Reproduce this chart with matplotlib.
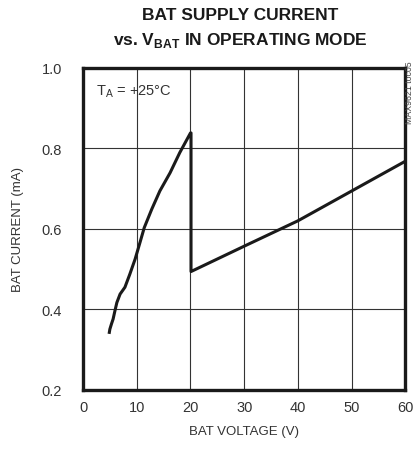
import numpy as np
import matplotlib.pyplot as plt

# Data
v_low = [4.9, 5.0, 5.3, 5.6, 5.95, 6.3, 6.9, 7.8, 8.7, 9.7, 10.6, 11.4, 12.8, 14.3, 16.2, 18.0, 20.0]
i_low = [0.343, 0.351, 0.364, 0.376, 0.397, 0.417, 0.438, 0.455, 0.487, 0.525, 0.566,
         0.603, 0.649, 0.694, 0.739, 0.789, 0.838]
v_high = [20.1, 20.1, 30, 40, 50, 60]
i_high = [0.838, 0.494, 0.557, 0.620, 0.694, 0.768]

x_ticks = [0, 10, 20, 30, 40, 50, 60]
y_ticks = [0.2, 0.4, 0.6, 0.8, 1.0]

plt.rcParams['font.family'] = ['Liberation Sans', 'DejaVu Sans']
plt.rcParams['mathtext.fontset'] = 'custom'
plt.rcParams['mathtext.rm'] = 'Liberation Sans'
plt.rcParams['mathtext.bf'] = 'Liberation Sans:bold'

fig = plt.figure(figsize=(4.15, 4.52), dpi=100)
ax = fig.add_axes([0.2, 0.135, 0.777, 0.713])

ax.plot(v_low + v_high, i_low + i_high, color='#1a1a1a', lw=2.2, solid_joinstyle='round')

ax.set_xlim(0, 60)
ax.set_ylim(0.2, 1.0)
ax.set_xticks(x_ticks)
ax.set_yticks(y_ticks)
ax.set_xticklabels([str(t) for t in x_ticks])
ax.set_yticklabels([f'{t:.1f}' for t in y_ticks])
ax.tick_params(length=0, labelsize=10.5, colors='#333333')
ax.tick_params(axis='x', pad=7)
ax.tick_params(axis='y', pad=15)
ax.grid(True, color='#333333', lw=0.8)
for s in ax.spines.values():
    s.set_linewidth(2.4)
    s.set_color('#1a1a1a')

ax.set_xlabel('BAT VOLTAGE (V)', fontsize=9.5, color='#333333', labelpad=8)
ax.set_ylabel('BAT CURRENT (mA)', fontsize=9.5, color='#333333', labelpad=13)

ax.text(0.04, 0.955, r'T$_{\mathregular{A}}$ = +25°C', transform=ax.transAxes,
        fontsize=10.5, color='#333333', va='top', ha='left')
fig.text(0.997, 0.865, 'MAX9621 toc05', rotation=90, fontsize=6.3, color='#444444',
         ha='right', va='top')

fig.text(0.579, 0.966, 'BAT SUPPLY CURRENT', fontsize=12.5, fontweight='bold',
         ha='center', va='center', color='#1a1a1a')
fig.text(0.579, 0.911, r'vs. V$_{\mathbf{BAT}}$ IN OPERATING MODE', fontsize=12.5,
         fontweight='bold', ha='center', va='center', color='#1a1a1a')

fig.savefig('out.png', dpi=100)
